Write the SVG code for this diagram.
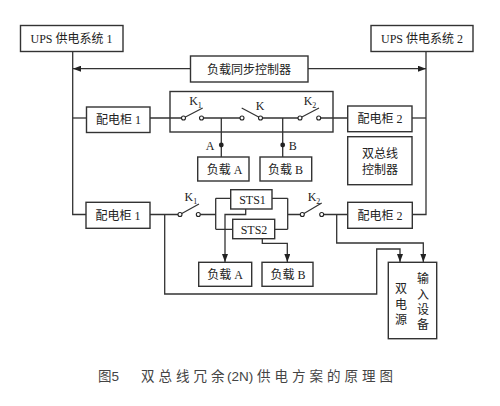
<svg xmlns="http://www.w3.org/2000/svg" width="500" height="406" viewBox="0 0 500 406">
<style>
text{font-family:"Liberation Serif","Noto Sans CJK SC",serif;font-size:12px;fill:#222;text-anchor:middle}
.b{fill:#fff;stroke:#333;stroke-width:1.4}
.o{fill:none;stroke:#333;stroke-width:1.2}
.w{fill:none;stroke:#333;stroke-width:1.3}
.s{fill:#fff;stroke:#222;stroke-width:1.1}
.d{fill:#222}
.k{font-size:12px}
.sub{font-size:8px}
.c{font-family:"Liberation Sans","Noto Sans CJK SC",sans-serif;font-size:13.5px;fill:#444;text-anchor:start}
</style>
<defs>
<marker id="a" viewBox="0 0 8 6" refX="8" refY="3" markerWidth="8" markerHeight="6" markerUnits="userSpaceOnUse" orient="auto"><path d="M0 0L8 3L0 6Z" fill="#222"/></marker>
</defs>
<g id="connectors">
<path class="w" d="M72.7 52V214.5H86"/>
<path class="w" d="M426 52V214.5H412"/>
<path class="w" d="M190.5 68.7H73" marker-end="url(#a)"/>
<path class="w" d="M308 68.7H426" marker-end="url(#a)"/>
<path class="w" d="M72.7 118H86.5"/>
<path class="w" d="M426 118H412"/>
<path class="w" d="M150 118H182M203 118H240.5M262 118H298.5M320.5 118H348"/>
<path class="w" d="M221.3 118V157M282.7 118V157"/>
<circle class="d" cx="221.3" cy="145" r="2.4"/>
<circle class="d" cx="282.7" cy="145" r="2.4"/>
<path class="o" d="M183.5 118L202.7 108M260.5 118L241.7 108M300 118L319 108"/>
<circle class="s" cx="183.5" cy="118" r="2"/><circle class="s" cx="201.5" cy="118" r="2"/>
<circle class="s" cx="242" cy="118" r="2"/><circle class="s" cx="260.5" cy="118" r="2"/>
<circle class="s" cx="300" cy="118" r="2"/><circle class="s" cx="318.7" cy="118" r="2"/>
<path class="w" d="M150 214.5H178M200.3 214.5H215.7M215.7 198.3V229.3M215.7 198.3H230.7M215.7 229.3H232.7"/>
<path class="w" d="M272 198.3H287.7M274.7 229.3H287.7M287.7 198.3V229.3M287.7 214.5H300.3M323.7 214.5H347.7"/>
<path class="o" d="M180 214.5L199 204M302.3 214.5L321.7 203"/>
<circle class="s" cx="180" cy="214.5" r="2"/><circle class="s" cx="198.3" cy="214.5" r="2"/>
<circle class="s" cx="302.3" cy="214.5" r="2"/><circle class="s" cx="321.7" cy="214.5" r="2"/>
<path class="w" d="M245.7 209V214.5H225V262" marker-end="url(#a)"/>
<path class="w" d="M262.3 238.7V243.3H287.3V262" marker-end="url(#a)"/>
<path class="w" d="M164.7 214.5V294H376.7V249H400V262" marker-end="url(#a)"/>
<path class="w" d="M336.7 214.5V243H423.3V262" marker-end="url(#a)"/>
</g>
<g id="ups1"><rect class="b" x="20.5" y="25.5" width="102.5" height="26"/><text x="71.5" y="43">UPS 供电系统 1</text></g>
<g id="ups2"><rect class="b" x="371" y="25.5" width="102" height="26"/><text x="422" y="43">UPS 供电系统 2</text></g>
<g id="sync"><rect class="b" x="190.5" y="56" width="117.5" height="26"/><text x="249" y="73.5">负载同步控制器</text></g>
<g id="switchbox1"><rect x="170" y="91.5" width="163" height="40.5" class="o" style="stroke-width:1.4"/>
<text class="k" x="195.5" y="105">K<tspan class="sub" dy="3">1</tspan></text>
<text class="k" x="260" y="110">K</text>
<text class="k" x="310" y="105">K<tspan class="sub" dy="3">2</tspan></text>
<text x="210" y="149.5">A</text><text x="292.7" y="149.5">B</text></g>
<g id="dist1a"><rect class="b" x="86.5" y="107" width="63.5" height="25.5"/><text x="118.5" y="124">配电柜 1</text></g>
<g id="dist2a"><rect class="b" x="347.7" y="106" width="64.3" height="25.7"/><text x="380" y="123">配电柜 2</text></g>
<g id="busctl"><rect class="b" x="347.7" y="136.7" width="64.3" height="48"/><text x="380" y="157.5">双总线</text><text x="380" y="173.5">控制器</text></g>
<g id="loadA1"><rect class="b" x="197.7" y="157" width="51.3" height="24"/><text x="224.5" y="173.5">负载 A</text></g>
<g id="loadB1"><rect class="b" x="260" y="157" width="51.7" height="24"/><text x="285.5" y="173.5">负载 B</text></g>
<g id="dist1b"><rect class="b" x="86" y="202.3" width="64" height="26"/><text x="118" y="219.5">配电柜 1</text></g>
<g id="dist2b"><rect class="b" x="347.7" y="202.3" width="64.6" height="26"/><text x="380" y="219.5">配电柜 2</text></g>
<g id="labels2"><text class="k" x="190.8" y="200.7">K<tspan class="sub" dy="3">1</tspan></text><text class="k" x="314" y="200.7">K<tspan class="sub" dy="3">2</tspan></text></g>
<g id="sts1"><rect class="b" x="230.7" y="189.7" width="41.3" height="19.3"/><text x="252.5" y="204">STS1</text></g>
<g id="sts2"><rect class="b" x="232.7" y="219.3" width="42" height="19.4"/><text x="254" y="233.5">STS2</text></g>
<g id="loadA2"><rect class="b" x="198.7" y="262.3" width="53" height="24"/><text x="225" y="279">负载 A</text></g>
<g id="loadB2"><rect class="b" x="262" y="262.3" width="51" height="24"/><text x="288" y="279">负载 B</text></g>
<g id="dual"><rect class="b" x="388.3" y="262.3" width="48.4" height="76.4"/>
<text x="401" y="293">双</text><text x="401" y="309">电</text><text x="401" y="324">源</text>
<text x="423" y="283">输</text><text x="423" y="299">入</text><text x="423" y="314">设</text><text x="423" y="329">备</text></g>
<text class="c" x="98" y="381">图5</text>
<text class="c" x="141" y="381" style="letter-spacing:4px">双总线冗余</text>
<text class="c" x="227" y="381">(2N)</text>
<text class="c" x="257" y="381" style="letter-spacing:4px">供电方案的原理图</text>
</svg>
